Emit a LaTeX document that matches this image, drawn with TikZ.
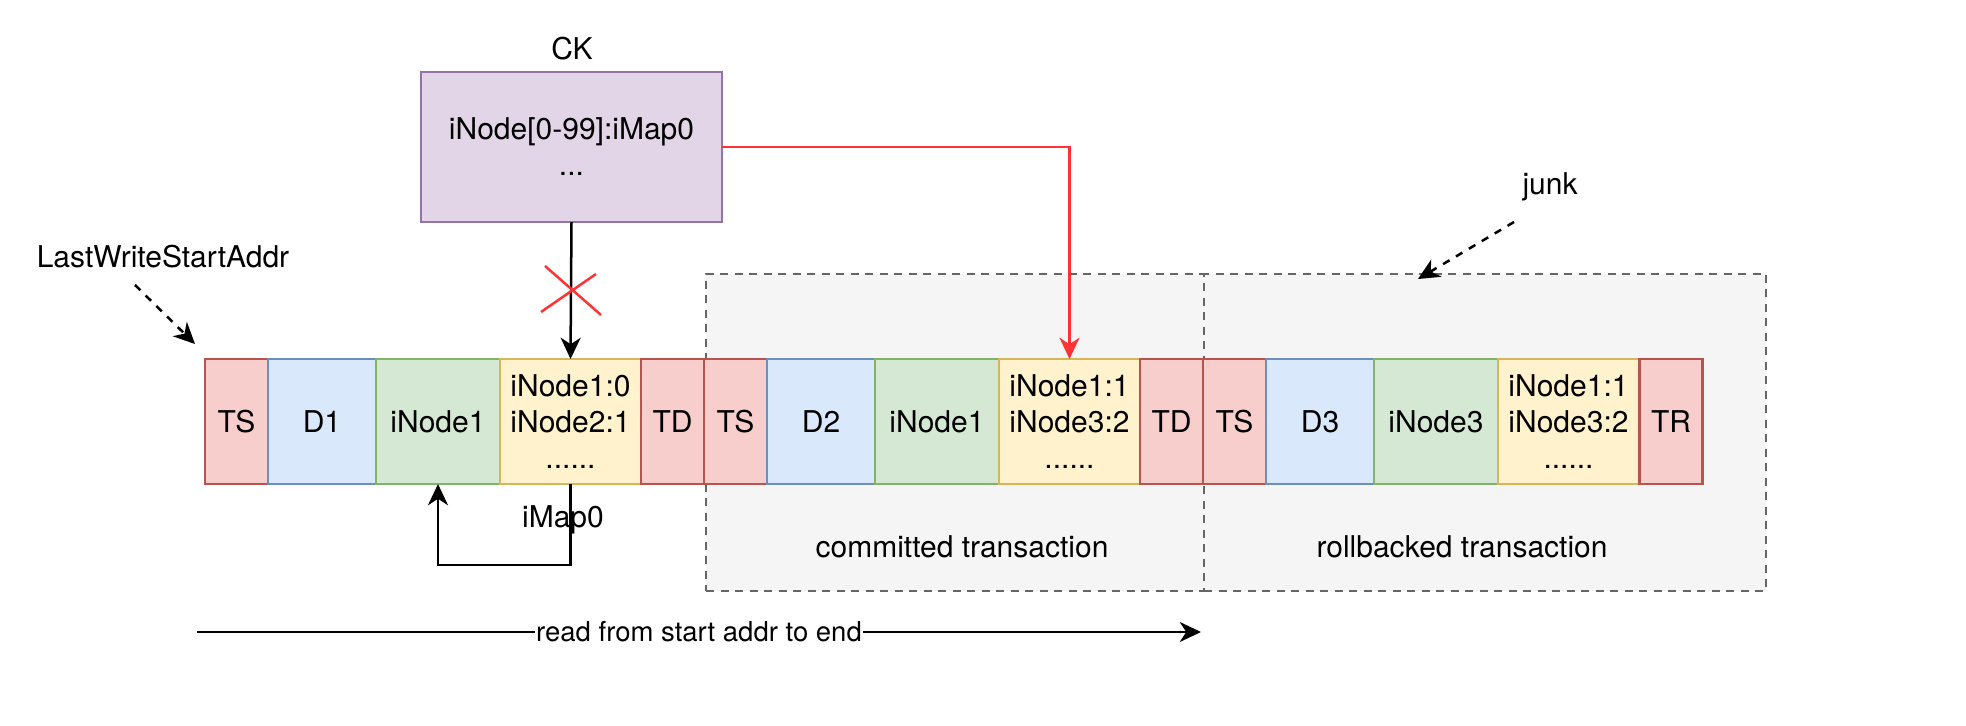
\documentclass[tikz,border=0pt]{standalone}
\usepackage{fontspec}
\setmainfont{TeX Gyre Heros}
\usetikzlibrary{fit,arrows.meta}
\definecolor{redF}{HTML}{F8CECC}\definecolor{redD}{HTML}{B85450}
\definecolor{blueF}{HTML}{DAE8FC}\definecolor{blueD}{HTML}{6C8EBF}
\definecolor{greenF}{HTML}{D5E8D4}\definecolor{greenD}{HTML}{82B366}
\definecolor{yelF}{HTML}{FFF2CC}\definecolor{yelD}{HTML}{D6B656}
\definecolor{purF}{HTML}{E1D5E7}\definecolor{purD}{HTML}{9673A6}
\definecolor{grayF}{HTML}{F5F5F5}\definecolor{grayD}{HTML}{666666}
\definecolor{lineRed}{HTML}{FF3333}
\begin{document}
\begin{tikzpicture}[x=0.4pt,y=-0.4pt,
  font=\fontsize{12}{14.4}\selectfont,
  cell/.style={draw, line width=1pt, inner sep=0pt, outer sep=0pt, align=center, minimum height=50pt},
  tscell/.style={cell, fill=redF, draw=redD, minimum width=25.2pt},
  dcell/.style={cell, fill=blueF, draw=blueD, minimum width=43.2pt},
  icell/.style={cell, fill=greenF, draw=greenD, minimum width=49.6pt},
  ycell/.style={cell, fill=yelF, draw=yelD, minimum width=56.4pt},
  ckbox/.style={cell, fill=purF, draw=purD, minimum width=120.4pt, minimum height=60pt},
  group/.style={fill=grayF, draw=grayD, line width=1pt, dash pattern=on 3.2pt off 2.6pt, inner sep=0pt},
  txt/.style={inner sep=0pt, align=center},
  tipa/.style={-{Stealth[length=8.5pt,width=8pt,inset=2.6pt]}},
  conn/.style={line width=1pt, tipa},
  dashconn/.style={conn, dash pattern=on 3pt off 3pt},
  redconn/.style={conn, draw=lineRed, -{Stealth[length=8.5pt,width=8pt,inset=2.6pt,fill=lineRed]}},
]
\path[use as bounding box] (0,0) rectangle (1966,726);

% transaction groups
\node[group, fit={(706,274)(1204,591)}] (gc) {};
\node[group, fit={(1204,274)(1766,591)}] (gr) {};
\node[txt] (lc) at (962,547) {committed transaction};
\node[txt] (lr) at (1462,547) {rollbacked transaction};

% first transaction
\node[tscell] (ts1) at (236.5,421.5) {TS};
\node[dcell]  (d1)  at (322,421.5) {D1};
\node[icell]  (in1) at (438,421.5) {iNode1};
\node[ycell]  (y1)  at (570.5,421.5) {iNode1:0\\iNode2:1\\......};
\node[tscell] (td1) at (672.5,421.5) {TD};
% second transaction
\node[tscell] (ts2) at (735.5,421.5) {TS};
\node[dcell]  (d2)  at (821,421.5) {D2};
\node[icell]  (in2) at (937,421.5) {iNode1};
\node[ycell]  (y2)  at (1069.5,421.5) {iNode1:1\\iNode3:2\\......};
\node[tscell] (td2) at (1171.5,421.5) {TD};
% third transaction
\node[tscell] (ts3) at (1234.5,421.5) {TS};
\node[dcell]  (d3)  at (1320,421.5) {D3};
\node[icell]  (in3) at (1436,421.5) {iNode3};
\node[ycell]  (y3)  at (1568.5,421.5) {iNode1:1\\iNode3:2\\......};
\node[tscell] (tr)  at (1671,421.5) {TR};

% checkpoint
\node[txt] (cklabel) at (572,49) {CK};
\node[ckbox] (ck) at (571.5,147) {iNode[0-99]:iMap0\\...};

% connectors
\draw[conn] (ck.south) -- (y1.north);
\draw[redconn] (ck.east) -| (y2.north);
\draw[line width=1pt, draw=lineRed] (545,266) -- (601,315);
\draw[line width=1pt, draw=lineRed] (596,274) -- (541,312);

\draw[conn] (y1.south) -- (y1.south |- 0,565) -| (in1.south);
\node[txt] (imap) at (563,520) {iMap0};

% annotations
\node[txt] (lw) at (163,257) {LastWriteStartAddr};
\coordinate (lwa) at (135,285);
\coordinate (lwb) at (195,344);
\draw[dashconn] (lwa) -- (lwb);

\node[txt] (junk) at (1550,187) {junk};
\coordinate (ja) at (1514,222);
\coordinate (jb) at (1418,279);
\draw[dashconn] (ja) -- (jb);

\coordinate (rs) at (197,632);
\coordinate (re) at (1201,632);
\draw[conn] (rs) -- node[fill=white, inner sep=0.5pt, font=\fontsize{11}{13}\selectfont] (readlbl) {read from start addr to end} (re);
\end{tikzpicture}
\end{document}
